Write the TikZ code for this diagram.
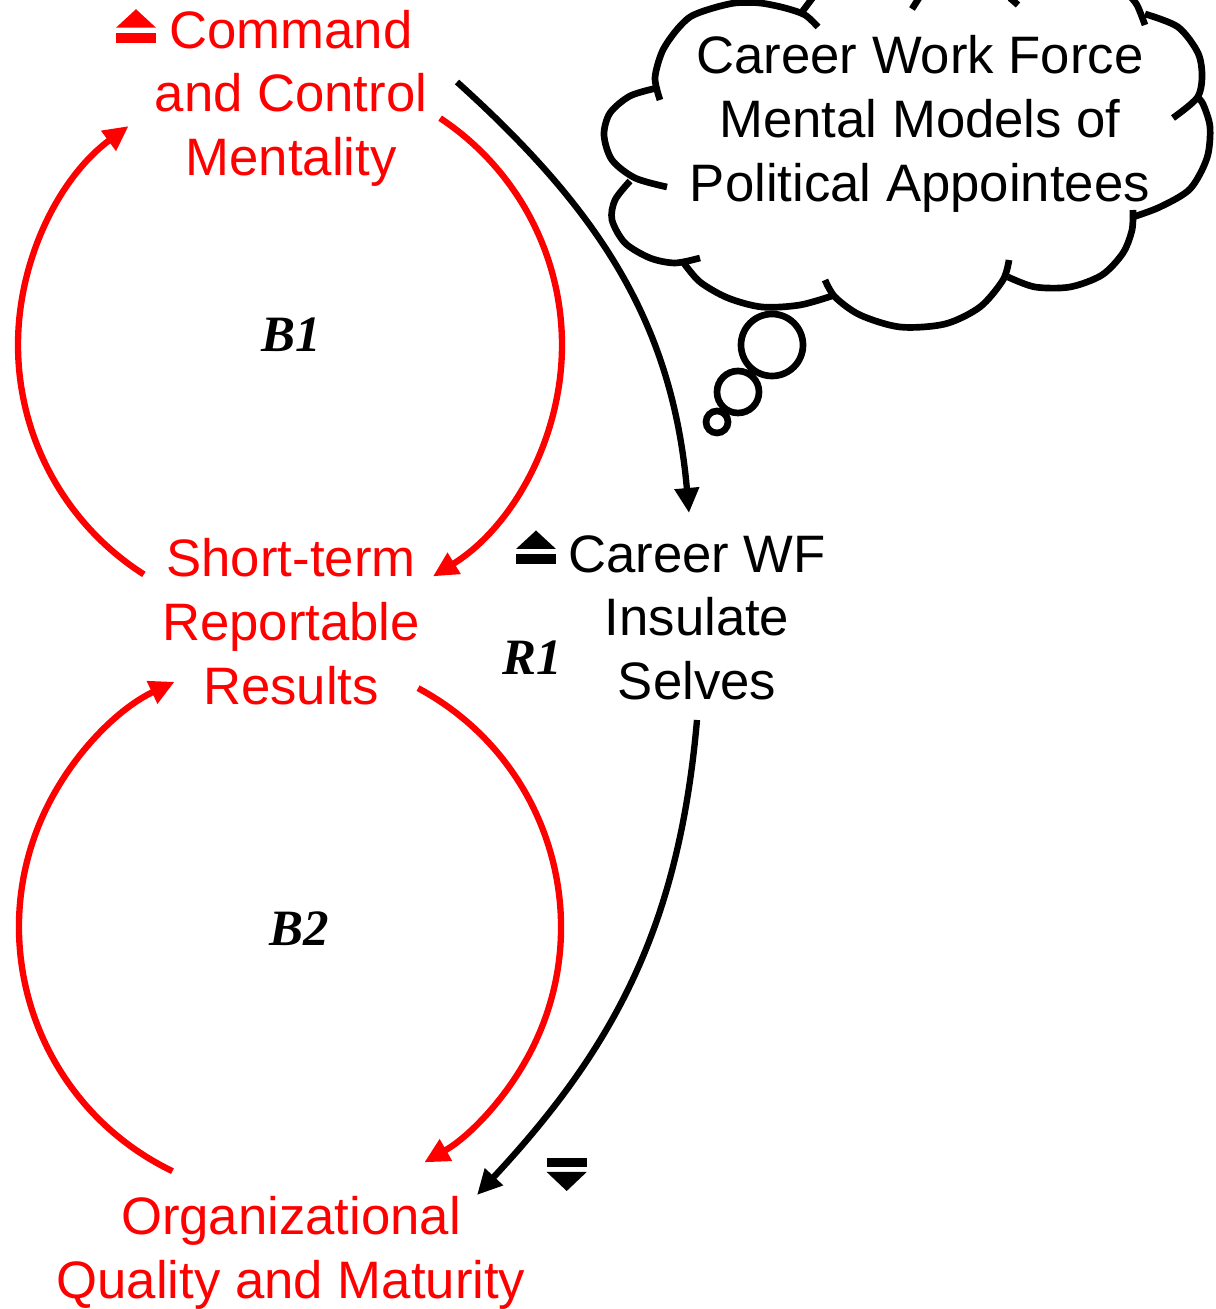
\documentclass[tikz,border=0pt]{standalone}
\usepackage{fontspec}
\setmainfont{Liberation Sans}
\newfontfamily\loopfont{Liberation Serif}
\usetikzlibrary{arrows.meta}

\begin{document}
\begin{tikzpicture}[x=0.02cm, y=0.02cm]
	\tikzstyle{var} = [inner sep=0pt, align=center, anchor=north, font=\fontsize{30}{36.3}\selectfont]
	\tikzstyle{loopname} = [inner sep=0pt, font=\fontsize{29}{34}\loopfont\bfseries\itshape]
	\tikzstyle{link} = [line width=3.6pt, -{Triangle[length=0.5cm, width=0.47cm]}]
	\tikzstyle{cloudline} = [line width=3.8pt]
	\tikzset{
		upmark/.pic={\fill (-20,0) rectangle (20,10); \fill (-20,15) -- (20,15) -- (0,33.5) -- cycle;},
		downmark/.pic={\fill (-20,0) rectangle (20,-9); \fill (-20,-14.3) -- (20,-14.3) -- (0,-33.3) -- cycle;}
	}
	\useasboundingbox (0,0) rectangle (1215,1309);
	% variables
	\node[var, red] (cmd) at (291,1299.5) {Command\\and Control\\Mentality};
	\node[var, red] (str) at (291,771) {Short-term\\Reportable\\Results};
	\node[var, red] (org) at (291,113) {Organizational\\Quality and Maturity};
	\node[var] (ins) at (697,774) {Career WF\\Insulate\\Selves};
	\node[var] (mm) at (920,1274) {Career Work Force\\Mental Models of\\Political Appointees};
	% up / down marks
	\pic[red] at (136,1266.3) {upmark};
	\pic at (536,745) {upmark};
	\pic at (566.7,151.3) {downmark};
	% loop names
	\node[loopname] (b1) at (291,974) {B1};
	\node[loopname] (r1) at (532,651) {R1};
	\node[loopname] (b2) at (299,380) {B2};
	% balancing loops
	\coordinate (b1c) at (290,964);
	\coordinate (b2c) at (290,382);
	\draw[link, red] (b1c) ++(237.5:272) arc[start angle=237.5, end angle=126.4, radius=272];
	\draw[link, red] (b1c) ++(56.5:272) arc[start angle=56.5, end angle=-58.3, radius=272];
	\draw[link, red] (b2c) ++(244.3:271) arc[start angle=244.3, end angle=115.2, radius=271];
	\draw[link, red] (b2c) ++(61.8:271) arc[start angle=61.8, end angle=-60.3, radius=271];
	% reinforcing links
	\coordinate (a1s) at (457,1227);
	\coordinate (a1e) at (689,796);
	\coordinate (a2s) at (697,589);
	\coordinate (a2e) at (477,114);
	\draw[link] (a1s) to[out=-42, in=95] (a1e);
	\draw[link] (a2s) to[out=-95, in=47] (a2e);
	% thought cloud
	\begin{scope}[shift={(0,1309)}, yscale=-1]
		\clip (0,0) rectangle (1215,1309);
		\draw[cloudline] plot[smooth] coordinates {(660,100) (655,78) (662,52) (675,32) (690,17) (710,9) (735,3) (760,3) (785,8) (805,15) (818,27)};
		\draw[cloudline] plot[smooth] coordinates {(802,12) (808,4) (814,-4)};
		\draw[cloudline] (912,9) -- (919,-2);
		\draw[cloudline] (1010,-2) -- (1018,5);
		\draw[cloudline] plot[smooth] coordinates {(1128,-6) (1137,5) (1145,25)};
		\draw[cloudline] plot[smooth] coordinates {(1145,14) (1178,27) (1198,53) (1202,77) (1197,98) (1173,118)};
		\draw[cloudline] plot[smooth] coordinates {(1133,217) (1160,207) (1190,189) (1207,158) (1210,127) (1203,104) (1197,97)};
		\draw[cloudline] plot[smooth] coordinates {(1008,277) (1035,287) (1070,287) (1102,275) (1123,253) (1132,230) (1133,210)};
		\draw[cloudline] plot[smooth] coordinates {(825,280) (835,297) (860,315) (900,327) (945,324) (980,307) (1003,280) (1009,260)};
		\draw[cloudline] plot[smooth] coordinates {(683,262) (700,282) (728,298) (762,307) (800,305) (835,295)};
		\draw[cloudline] plot[smooth] coordinates {(630,181) (615,200) (612,220) (625,243) (650,258) (675,263) (700,258)};
		\draw[cloudline] plot[smooth] coordinates {(657,88) (630,96) (610,113) (604,135) (612,160) (635,178) (667,187)};
		\draw[cloudline] (772,345) circle[radius=31];
		\draw[cloudline] (738,392) circle[radius=21];
		\draw[cloudline] (717,422) circle[radius=11];
	\end{scope}
\end{tikzpicture}
\end{document}
